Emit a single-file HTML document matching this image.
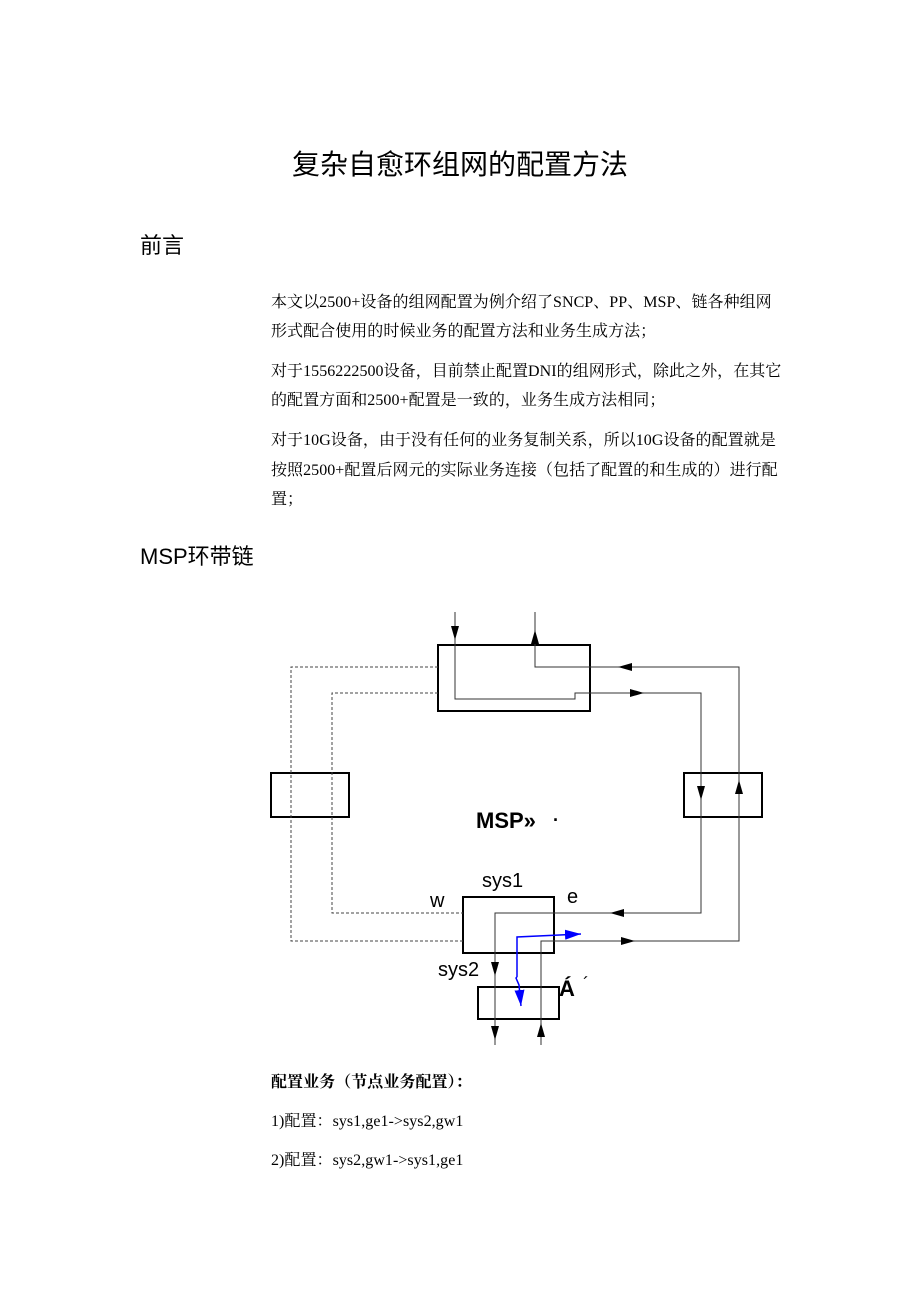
<!DOCTYPE html>
<html><head><meta charset="utf-8"><style>
body{margin:0;background:#fff;width:920px;height:1302px;position:relative;overflow:hidden;font-family:"Liberation Serif","Noto Serif CJK SC",serif;color:#000}
.t{position:absolute;white-space:nowrap;line-height:1}
.b{font-size:16px;letter-spacing:0.05px}
.h{font-family:"Liberation Sans","Noto Sans CJK SC",sans-serif;font-size:22px}
</style></head><body>
<div class="t" style="left:0;width:920px;text-align:center;top:152px;font-size:28px;font-family:'Liberation Serif','Noto Sans CJK SC',serif">复杂自愈环组网的配置方法</div>
<div class="t h" style="left:140px;top:235px">前言</div>
<div class="t b" style="left:271px;top:295px">本文以2500+设备的组网配置为例介绍了SNCP、PP、MSP、链各种组网</div>
<div class="t b" style="left:271px;top:324px">形式配合使用的时候业务的配置方法和业务生成方法；</div>
<div class="t b" style="left:271px;top:364px">对于1556222500设备，目前禁止配置DNI的组网形式，除此之外，在其它</div>
<div class="t b" style="left:271px;top:393px">的配置方面和2500+配置是一致的，业务生成方法相同；</div>
<div class="t b" style="left:271px;top:433px">对于10G设备，由于没有任何的业务复制关系，所以10G设备的配置就是</div>
<div class="t b" style="left:271px;top:463px">按照2500+配置后网元的实际业务连接（包括了配置的和生成的）进行配</div>
<div class="t b" style="left:271px;top:492px">置；</div>
<div class="t h" style="left:140px;top:546px">MSP环带链</div>

<svg width="920" height="1302" style="position:absolute;left:0;top:0">
<defs><marker id="a" viewBox="0 0 14 8" refX="14" refY="4" markerWidth="14" markerHeight="8" orient="auto" markerUnits="userSpaceOnUse"><path d="M0,0L14,4L0,8z" fill="#000"/></marker>
<marker id="ab" viewBox="0 0 16 10" refX="16" refY="5" markerWidth="16" markerHeight="10" orient="auto" markerUnits="userSpaceOnUse"><path d="M0,0L16,5L0,10z" fill="#0000ff"/></marker></defs>
<g fill="none" stroke="#000" stroke-width="2">
<rect x="438" y="645" width="152" height="66"/>
<rect x="271" y="773" width="78" height="44"/>
<rect x="684" y="773" width="78" height="44"/>
<rect x="463" y="897" width="91" height="56"/>
<rect x="478" y="987" width="81" height="32"/>
</g>
<g fill="none" stroke="#444" stroke-width="1" stroke-dasharray="3,2">
<polyline points="438,667 291,667 291,941 463,941"/>
<polyline points="438,693 332,693 332,913 463,913"/>
</g>
<g fill="none" stroke="#333" stroke-width="1">
<polyline points="455,612 455,699 575,699 575,693 701,693 701,913 495,913 495,1045"/>
<polyline points="535,612 535,667 739,667 739,941 541,941 541,1045"/>
<line x1="455" y1="612" x2="455" y2="640" marker-end="url(#a)"/>
<line x1="535" y1="660" x2="535" y2="630" marker-end="url(#a)"/>
<line x1="640" y1="667" x2="618" y2="667" marker-end="url(#a)"/>
<line x1="603" y1="693" x2="644" y2="693" marker-end="url(#a)"/>
<line x1="701" y1="780" x2="701" y2="800" marker-end="url(#a)"/>
<line x1="739" y1="805" x2="739" y2="780" marker-end="url(#a)"/>
<line x1="638" y1="913" x2="610" y2="913" marker-end="url(#a)"/>
<line x1="595" y1="941" x2="635" y2="941" marker-end="url(#a)"/>
<line x1="495" y1="955" x2="495" y2="976" marker-end="url(#a)"/>
<line x1="495" y1="1025" x2="495" y2="1040" marker-end="url(#a)"/>
<line x1="541" y1="1045" x2="541" y2="1023" marker-end="url(#a)"/>
</g>
<g fill="none" stroke="#0000ff" stroke-width="1.5">
<polyline points="517,977 517,937 581,934" marker-end="url(#ab)"/>
<polyline points="517,977 516,978 519,985 521,1006" marker-end="url(#ab)"/>
</g>
<g font-family="Liberation Sans,sans-serif" fill="#000">
<text x="476" y="828" font-size="22" font-weight="bold">MSP»</text>
<text x="553" y="826" font-size="18" font-weight="bold">·</text>
<text x="482" y="887" font-size="20">sys1</text>
<text x="430" y="907" font-size="20">w</text>
<text x="567" y="903" font-size="20">e</text>
<text x="438" y="976" font-size="20">sys2</text>
<text x="559" y="996" font-size="22" font-weight="bold">Á</text>
<text x="583" y="990" font-size="18">´</text>
</g>
</svg>
<div class="t b" style="left:271px;top:1075px;font-weight:bold">配置业务（节点业务配置）：</div>
<div class="t b" style="left:271px;top:1114px">1)配置：sys1,ge1-&gt;sys2,gw1</div>
<div class="t b" style="left:271px;top:1153px">2)配置：sys2,gw1-&gt;sys1,ge1</div>
</body></html>
